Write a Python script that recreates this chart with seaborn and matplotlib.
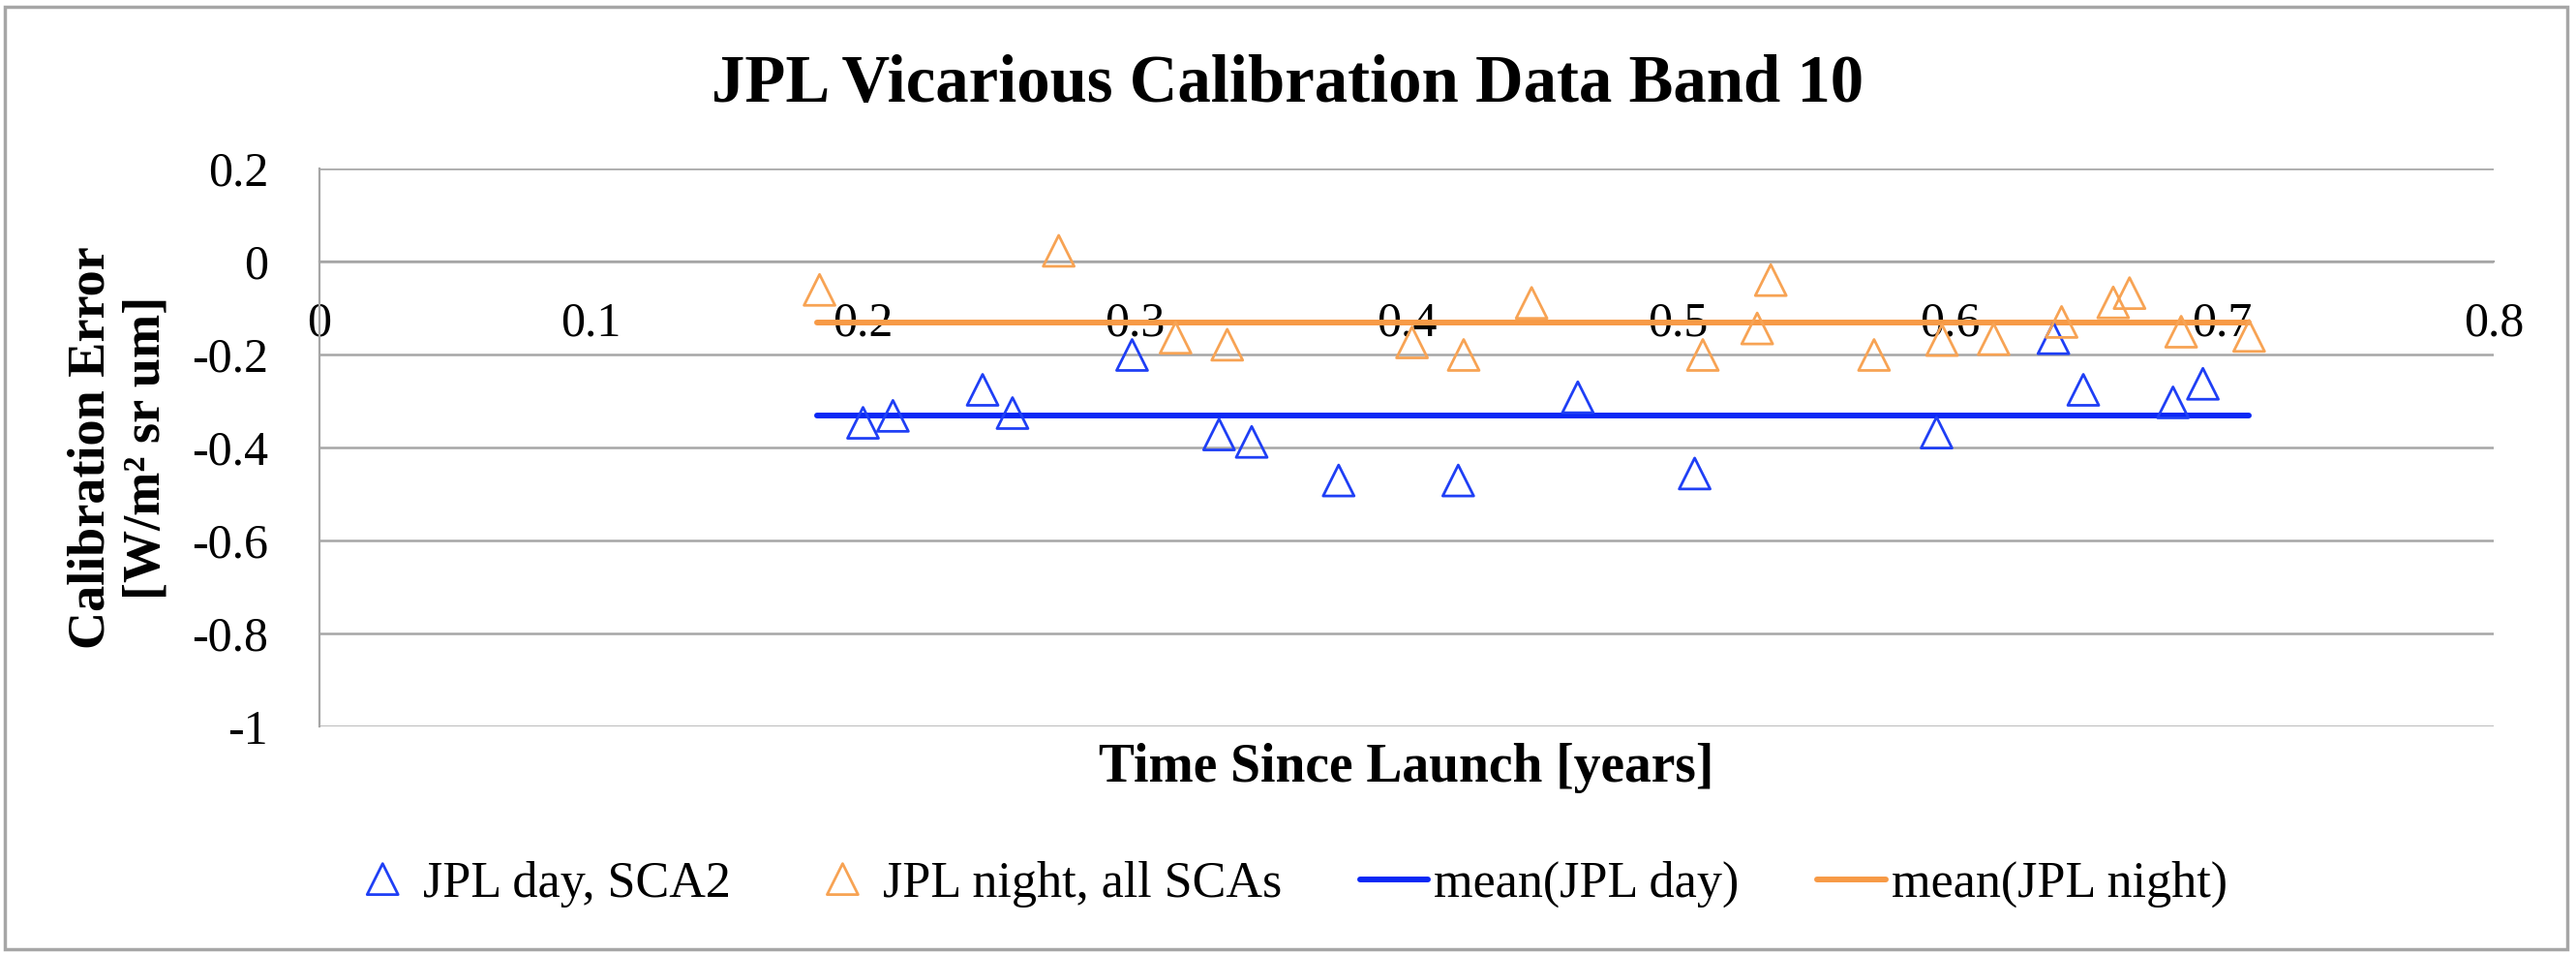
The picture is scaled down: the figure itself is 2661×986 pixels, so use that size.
import matplotlib
matplotlib.use("Agg")
import matplotlib.pyplot as plt
import seaborn as sns
from matplotlib.patches import Rectangle

# ── Data ──────────────────────────────────────────────────
day_t = [0.200, 0.211, 0.244, 0.255, 0.299, 0.331, 0.343, 0.375,
         0.419, 0.463, 0.506, 0.595, 0.638, 0.649, 0.682, 0.693]
day_err = [-0.347, -0.332, -0.276, -0.326, -0.201, -0.372, -0.388, -0.471,
           -0.471, -0.292, -0.456, -0.368, -0.165, -0.276, -0.303, -0.263]

night_t = [0.184, 0.272, 0.315, 0.334, 0.402, 0.421, 0.446, 0.509, 0.529,
           0.534, 0.572, 0.597, 0.616, 0.641, 0.660, 0.666, 0.685, 0.710]
night_err = [-0.061, 0.023, -0.164, -0.179, -0.174, -0.201, -0.089, -0.201, -0.144,
             -0.040, -0.201, -0.169, -0.167, -0.130, -0.088, -0.068, -0.151, -0.160]

mean_t = [0.183, 0.710]
mean_day = [-0.331, -0.331]
mean_night = [-0.131, -0.131]

x_ticks = [0, 0.1, 0.2, 0.3, 0.4, 0.5, 0.6, 0.7, 0.8]
x_tick_labels = ["0", "0.1", "0.2", "0.3", "0.4", "0.5", "0.6", "0.7", "0.8"]
y_ticks = [0.2, 0, -0.2, -0.4, -0.6, -0.8, -1]
y_tick_labels = ["0.2", "0", "-0.2", "-0.4", "-0.6", "-0.8", "-1"]

# ── Style ─────────────────────────────────────────────────
C_DAY = "#1f3ff5"
C_NIGHT = "#f7a354"
C_MEAN_DAY = "#0a28f5"
C_MEAN_NIGHT = "#f79a46"
GRID = "#a6a6a6"

sns.set_theme(style="white")
plt.rcParams["font.family"] = ["Liberation Serif", "DejaVu Serif"]
plt.rcParams["axes.unicode_minus"] = False
plt.rcParams["text.color"] = "black"
plt.rcParams["axes.labelcolor"] = "black"

W, H = 2661, 986
fig = plt.figure(figsize=(W / 100, H / 100), dpi=100)
ax = fig.add_axes([330 / W, 1 - 750 / H, 2246 / W, 576 / H])

# ── Marks ─────────────────────────────────────────────────
sns.scatterplot(x=day_t, y=day_err, marker="^", s=530, facecolor="none",
                edgecolor=C_DAY, linewidth=2.0, label="JPL day, SCA2", ax=ax, zorder=4)
sns.scatterplot(x=night_t, y=night_err, marker="^", s=530, facecolor="none",
                edgecolor=C_NIGHT, linewidth=2.0, label="JPL night, all SCAs", ax=ax, zorder=4)
sns.lineplot(x=mean_t, y=mean_day, color=C_MEAN_DAY, linewidth=4.3,
             label="mean(JPL day)", ax=ax, zorder=3)
sns.lineplot(x=mean_t, y=mean_night, color=C_MEAN_NIGHT, linewidth=4.3,
             label="mean(JPL night)", ax=ax, zorder=3)

# ── Axes ──────────────────────────────────────────────────
ax.set_xlim(0, 0.8)
ax.set_ylim(-1, 0.2)
ax.set_xticks(x_ticks)
ax.set_xticklabels(x_tick_labels)
ax.set_yticks(y_ticks)
ax.set_yticklabels(y_tick_labels)

for side in ["top", "right"]:
    ax.spines[side].set_visible(False)
ax.spines["bottom"].set_position(("data", 0))
for side in ["left", "bottom"]:
    ax.spines[side].set_color(GRID)
    ax.spines[side].set_linewidth(1.6)

ax.tick_params(axis="x", direction="out", length=10.8, width=1.5, color=GRID,
               pad=19, labelsize=36, labelcolor="black")
ax.tick_params(axis="y", direction="out", length=12, width=1.5, color=GRID,
               pad=26, labelsize=36, labelcolor="black")
ax.yaxis.grid(True, color=GRID, linewidth=1.8)
ax.xaxis.grid(False)
ax.set_axisbelow(True)

ax.set_xlabel("Time Since Launch [years]", fontsize=40, fontweight="bold",
              va="center", color="black")
ax.xaxis.set_label_coords(0.5, (750 - 793) / 576)
ax.set_ylabel("Calibration Error\n[W/m² sr um]", fontsize=39, fontweight="bold",
              va="center", ha="center", color="black")
ax.yaxis.set_label_coords((123 - 330) / 2246, 0.5)

fig.text(0.5, 1 - 105 / H, "JPL Vicarious Calibration Data Band 10",
         ha="center", va="baseline", fontsize=49.5, fontweight="bold", color="black")

# ── Legend ────────────────────────────────────────────────
handles, labels = ax.get_legend_handles_labels()
ax.get_legend().remove()
leg = fig.legend(handles, labels, loc="center", bbox_to_anchor=(0.5, 1 - 913 / H),
                 ncol=4, frameon=False, fontsize=37.5, handlelength=1.35,
                 handletextpad=0.12, columnspacing=1.55, scatteryoffsets=[0.5])
for txt in leg.get_texts():
    txt.set_color("black")

# chart border
fig.add_artist(Rectangle((5 / W, 6 / H), 2647 / W, 973 / H, transform=fig.transFigure,
                         fill=False, edgecolor=GRID, linewidth=2.5))

fig.savefig("out.png", dpi=100)
plt.close(fig)
